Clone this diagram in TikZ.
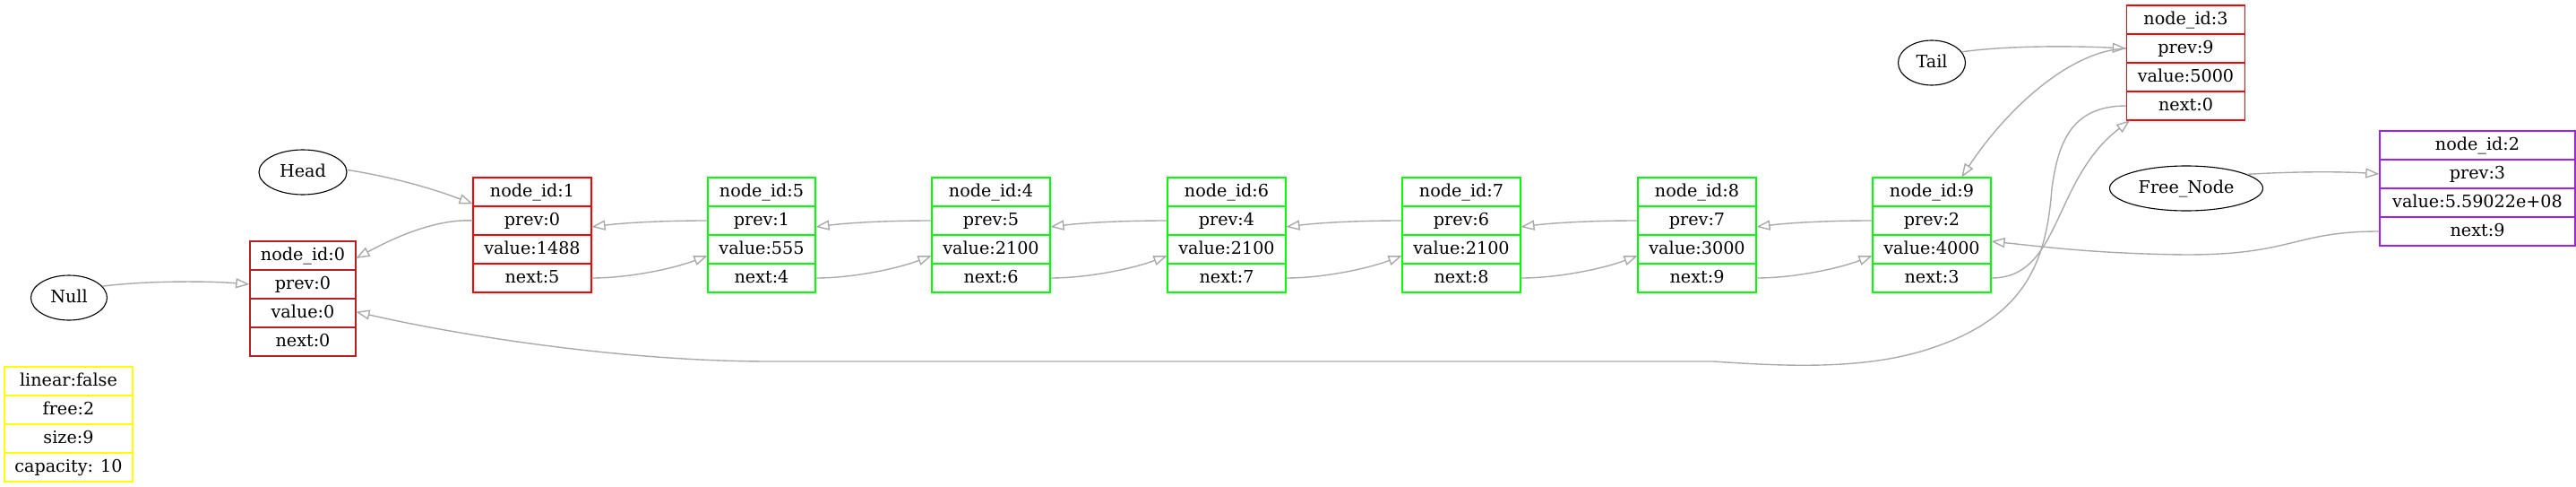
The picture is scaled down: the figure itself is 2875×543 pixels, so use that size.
\documentclass[tikz,border=0pt]{standalone}
\usepackage{fontspec}
\setmainfont{DejaVu Serif}
\usetikzlibrary{arrows.meta,shapes.geometric,calc}
\definecolor{edgegray}{HTML}{A9A9A9}
\definecolor{nred}{HTML}{FF0000}
\definecolor{ngreen}{HTML}{00FF00}
\definecolor{nbrown}{HTML}{B22222}
\definecolor{npurple}{HTML}{A020F0}
\definecolor{nyellow}{HTML}{FFFF00}
\tikzset{
  recbox/.style={rectangle, draw=none, inner sep=0pt, minimum height=128*0.72pt},
  recfield/.style={rectangle, draw=#1, line width=0.8pt, inner sep=0pt,
    minimum height=32*0.72pt, font=\fontsize{13.8}{16}\selectfont,
    text height=9.6pt, text depth=2pt},
  oval/.style={ellipse, draw=black, line width=0.8pt, inner sep=0pt,
    font=\fontsize{13.8}{16}\selectfont, text height=9.6pt, text depth=2pt},
  edgelink/.style={draw=edgegray, line width=1pt,
    -{Triangle[open, length=11pt, width=8pt]}},
}
\newcommand\mkrecord[9]{%
  \node[recbox, minimum width=#4*0.72pt] (#1) at (#2,#3+64) {};
  \node[recfield=#5, minimum width=#4*0.72pt] (#1id) at (#2,#3+16) {#6};
  \node[recfield=#5, minimum width=#4*0.72pt] (#1prev) at (#2,#3+48) {#7};
  \node[recfield=#5, minimum width=#4*0.72pt] (#1val) at (#2,#3+80) {#8};
  \node[recfield=#5, minimum width=#4*0.72pt] (#1next) at (#2,#3+112) {#9};
}
\begin{document}
\begin{tikzpicture}[x=0.72pt, y=-0.72pt]
\useasboundingbox (0,0) rectangle (2875,543);

% records
\mkrecord{st}{76.5}{409}{143}{nyellow}{linear:false}{free:2}{size:9}{capacity: 10}
\mkrecord{n0}{338}{269}{118}{nbrown}{node\_id:0}{prev:0}{value:0}{next:0}
\mkrecord{n1}{594}{198}{132}{nred}{node\_id:1}{prev:0}{value:1488}{next:5}
\mkrecord{n5}{850}{198}{120}{ngreen}{node\_id:5}{prev:1}{value:555}{next:4}
\mkrecord{n4}{1106}{198}{132}{ngreen}{node\_id:4}{prev:5}{value:2100}{next:6}
\mkrecord{n6}{1369}{198}{132}{ngreen}{node\_id:6}{prev:4}{value:2100}{next:7}
\mkrecord{n7}{1631}{198}{132}{ngreen}{node\_id:7}{prev:6}{value:2100}{next:8}
\mkrecord{n8}{1894}{198}{132}{ngreen}{node\_id:8}{prev:7}{value:3000}{next:9}
\mkrecord{n9}{2156}{198}{132}{ngreen}{node\_id:9}{prev:2}{value:4000}{next:3}
\mkrecord{n3}{2439.5}{6}{132}{nred}{node\_id:3}{prev:9}{value:5000}{next:0}
\mkrecord{n2}{2765}{146}{218}{npurple}{node\_id:2}{prev:3}{value:5.59022e+08}{next:9}

% ellipses
\node[oval, minimum width=85*0.72pt, minimum height=50*0.72pt] (null) at (77,332) {Null};
\node[oval, minimum width=98*0.72pt, minimum height=50*0.72pt] (head) at (338,192) {Head};
\node[oval, minimum width=75*0.72pt, minimum height=50*0.72pt] (tail) at (2156,70) {Tail};
\node[oval, minimum width=171*0.72pt, minimum height=50*0.72pt] (free) at (2440,210) {Free\_Node};

% waypoints
\coordinate (w1) at (2290,210);
\coordinate (w2) at (2150,390);
\coordinate (w3) at (1913,403);
\coordinate (w4) at (860,403);
\coordinate (w5) at (2440,284);

% edges
\draw[edgelink] (null.19) .. controls +(46,-6) and +(-49,-4) .. (n0prev.west);
\draw[edgelink] (head.3) .. controls +(33,5) and +(-58,-22) .. ($(n1.north west)!0.23!(n1.south west)$);
\draw[edgelink] (n1prev.west) .. controls +(-38,-2) and +(48,-26) .. ($(n0.north east)!0.15!(n0.south east)$);

\foreach \a/\b in {n5/n1, n4/n5, n6/n4, n7/n6, n8/n7, n9/n8}
  \draw[edgelink] (\a prev.west) .. controls +(-45,0) and +(40,-5) .. ($(\b.north east)!0.43!(\b.south east)$);
\foreach \a/\b in {n1/n5, n5/n4, n4/n6, n6/n7, n7/n8, n8/n9}
  \draw[edgelink] (\a next.east) .. controls +(40,0) and +(-40,15) .. ($(\b.north west)!0.68!(\b.south west)$);

\draw[edgelink] (tail.20) .. controls +(51,-7) and +(-62,-3) .. (n3prev.west);
\draw[edgelink] (n3prev.west) .. controls +(-62,2) and +(51,-77) .. ($(n9.north west)!0.75!(n9.north east)$);
\draw[edgelink] (n9next.east) .. controls +(78,0) and +(-87,66) .. ($(n3.south west)!0.03!(n3.south east)$);
\draw[edgelink] (n3next.west) .. controls +(-62,0) and +(7,-50) .. (w1)
  .. controls +(-6,80) and +(112,-35) .. (w2)
  .. controls +(-64,20) and +(97,7) .. (w3) -- (w4)
  .. controls +(-160,0) and +(123,28) .. ($(n0.north east)!0.614!(n0.south east)$);
\draw[edgelink] (n2next.west) .. controls +(-96,0) and +(120,0) .. (w5)
  .. controls +(-100,-1) and +(58,6) .. ($(n9.north east)!0.555!(n9.south east)$);
\draw[edgelink] (free.13) .. controls +(52,-3) and +(-46,-3) .. (n2prev.west);
\end{tikzpicture}
\end{document}
